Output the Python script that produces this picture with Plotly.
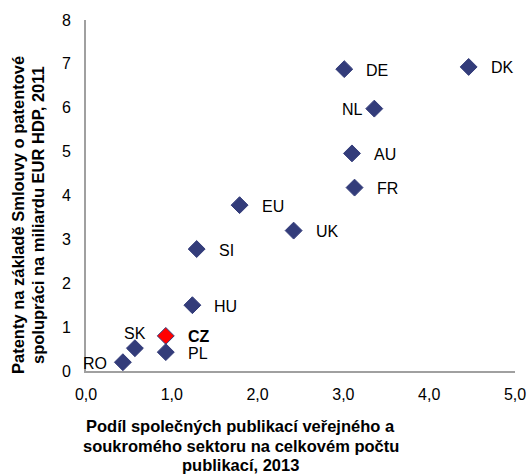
import plotly.graph_objects as go

countries = ["DK", "DE", "NL", "AU", "FR", "UK", "EU", "SI", "HU", "CZ", "PL", "SK", "RO"]
x_share = [4.46, 3.01, 3.36, 3.10, 3.13, 2.42, 1.79, 1.29, 1.24, 0.93, 0.93, 0.57, 0.43]
y_patents = [6.93, 6.88, 5.98, 4.96, 4.18, 3.20, 3.78, 2.78, 1.50, 0.80, 0.43, 0.52, 0.20]

x_title_lines = ["Podíl společných publikací veřejného a",
                 "soukromého sektoru na celkovém počtu",
                 "publikací, 2013"]
y_title_lines = ["Patenty na základě Smlouvy o patentové",
                 "spolupráci na miliardu EUR HDP, 2011"]

NAVY = "#333C7A"
FONT = "Liberation Sans, Arial, sans-serif"

# where each label sits relative to its marker
label_pos = {"NL": "left", "RO": "left", "SK": "above"}

colors = ["#FF0000" if c == "CZ" else NAVY for c in countries]

fig = go.Figure()
fig.add_trace(go.Scatter(
    x=x_share, y=y_patents, mode="markers",
    marker=dict(symbol="diamond", size=13, color=colors,
                line=dict(color=NAVY, width=1)),
    hoverinfo="text", text=countries, showlegend=False,
    cliponaxis=False,
))

for c, xv, yv in zip(countries, x_share, y_patents):
    pos = label_pos.get(c, "right")
    txt = "<b>%s</b>" % c if c == "CZ" else c
    if pos == "right":
        kw = dict(xanchor="left", yanchor="middle", xshift=20, yshift=-1)
    elif pos == "left":
        kw = dict(xanchor="right", yanchor="middle", xshift=-9 if c == "NL" else -14, yshift=-1)
    else:
        kw = dict(xanchor="center", yanchor="middle", xshift=0, yshift=15)
    fig.add_annotation(x=xv, y=yv, text=txt, showarrow=False,
                       font=dict(family=FONT, size=16, color="#000000"), **kw)

# axis titles, one annotation per line so the line spacing matches
for i, line in enumerate(x_title_lines):
    fig.add_annotation(
        xref="paper", yref="paper", x=0.3613, y=[-0.1567, -0.2137, -0.2678][i],
        xanchor="center", yanchor="middle", text="<b>%s</b>" % line,
        showarrow=False, font=dict(family=FONT, size=16.5, color="#000000"),
    )
for i, line in enumerate(y_title_lines):
    fig.add_annotation(
        xref="paper", yref="paper", x=[-0.1585, -0.1119][i], y=0.4444,
        xanchor="center", yanchor="middle", textangle=-90, text="<b>%s</b>" % line,
        showarrow=False, font=dict(family=FONT, size=16.5, color="#000000"),
    )

fig.update_layout(
    width=529, height=475,
    margin=dict(l=86, r=14, t=20, b=104, autoexpand=False),
    plot_bgcolor="white", paper_bgcolor="white",
    separators=", ",
    font=dict(family=FONT, size=16, color="#000000"),
    xaxis=dict(range=[0, 5], dtick=1, tickformat=".1f", showgrid=False, zeroline=False,
               showline=True, linecolor="#A0A0A0", linewidth=2, ticks="",
               ticklabelstandoff=8, automargin=False),
    yaxis=dict(range=[0, 8], dtick=1, showgrid=False, zeroline=False,
               showline=True, linecolor="#A0A0A0", linewidth=2, ticks="",
               ticklabelstandoff=10, automargin=False),
)

# drop the default 8px page margin so the figure fills the window
fig.write_html("out.html", config={"displayModeBar": False},
               post_script="document.body.style.margin='0';document.body.style.overflow='hidden';")
